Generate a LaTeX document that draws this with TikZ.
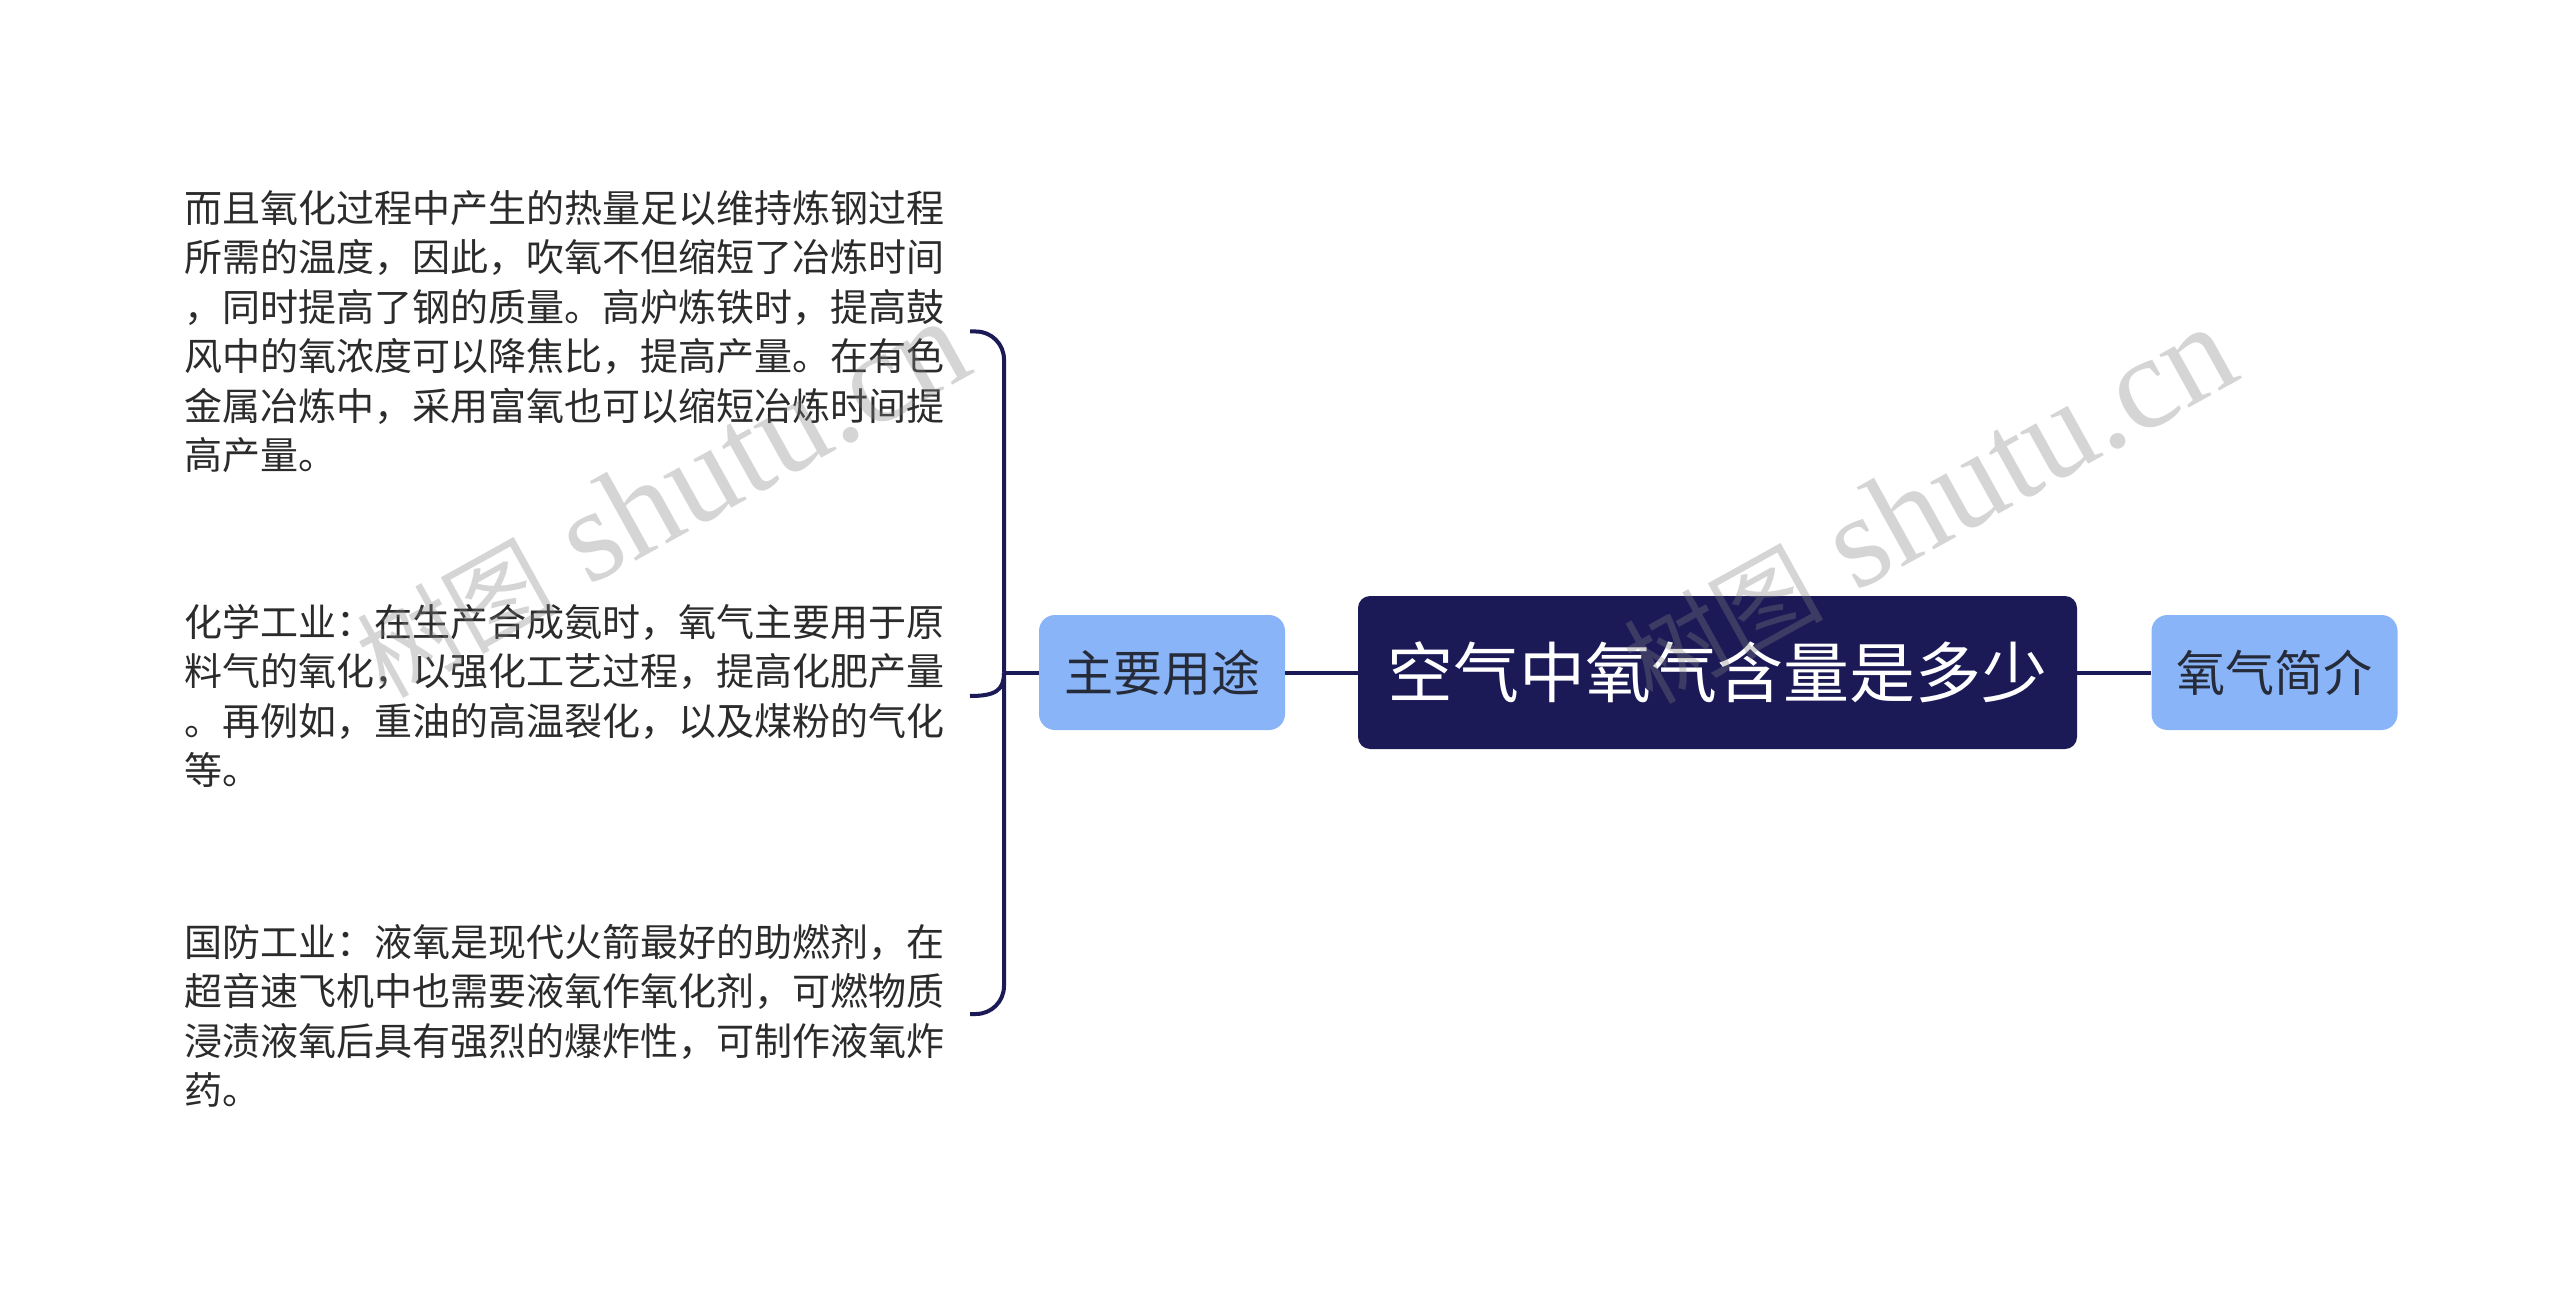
\documentclass[tikz,border=0pt]{standalone}
\usepackage{fontspec}
\setmainfont{Noto Sans CJK SC}
\newfontfamily\wmserif{Liberation Serif}
\usetikzlibrary{calc}
\definecolor{navy}{HTML}{1B1A57}
\definecolor{lblue}{HTML}{8AB4F8}
\definecolor{txt}{HTML}{2B2B2B}
\definecolor{subtxt}{HTML}{262B3A}
\begin{document}
\begin{tikzpicture}[x=1pt,y=-1pt,
  root/.style={fill=navy, rounded corners=12pt, minimum width=719pt, minimum height=153pt,
    text=white, font=\fontsize{66}{74}\selectfont, inner sep=0pt},
  branch/.style={fill=lblue, rounded corners=16pt, minimum width=246pt, minimum height=115pt,
    text=subtxt, font=\fontsize{49}{56}\selectfont, inner sep=0pt},
  leaf/.style={anchor=base west, inner sep=0pt, text=txt, font=\fontsize{38}{49.5}\selectfont},
  link/.style={draw=navy, line width=4pt},
  wm/.style={text=gray, opacity=0.33, rotate=29, inner sep=0pt, anchor=base west,
    font=\fontsize{132}{140}\selectfont}]
\useasboundingbox[fill=white] (0,0) rectangle (2560,1297);

% nodes
\node[root] (root) at (1717.5,672.5) {空气中氧气含量是多少};
\node[branch] (b1) at (1162,672.5) {主要用途};
\node[branch] (b2) at (2274.5,672.5) {氧气简介};

\node[leaf] (l1) at (184,222.5) {\parbox[t]{800pt}{\raggedright
而且氧化过程中产生的热量足以维持炼钢过程\\
所需的温度，因此，吹氧不但缩短了冶炼时间\\
，同时提高了钢的质量。高炉炼铁时，提高鼓\\
风中的氧浓度可以降焦比，提高产量。在有色\\
金属冶炼中，采用富氧也可以缩短冶炼时间提\\
高产量。}};
\node[leaf] (l2) at (184,636.4) {\parbox[t]{800pt}{\raggedright
化学工业：在生产合成氨时，氧气主要用于原\\
料气的氧化，以强化工艺过程，提高化肥产量\\
。再例如，重油的高温裂化，以及煤粉的气化\\
等。}};
\node[leaf] (l3) at (184,956.4) {\parbox[t]{800pt}{\raggedright
国防工业：液氧是现代火箭最好的助燃剂，在\\
超音速飞机中也需要液氧作氧化剂，可燃物质\\
浸渍液氧后具有强烈的爆炸性，可制作液氧炸\\
药。}};

% connectors
\coordinate (hub) at (1004,672.5);
\coordinate (e1) at (970,331.5);
\coordinate (e2) at (970,696);
\coordinate (e3) at (970,1014);
\draw[link] (root.west) -- (b1.east);
\draw[link] (root.east) -- (b2.west);
\draw[link] (b1.west) -- (hub);
\draw[link, rounded corners=28pt] (e1) -- (1004,331.5) -- (hub);
\draw[link, rounded corners=28pt] (e3) -- (1004,1014) -- (hub);
\draw[link] (e2) .. controls (996,696) and (1004,690) .. (hub);

% watermarks
\node[wm] (wm1) at (385,700) {{\fontsize{100}{105}\selectfont 树图}\wmserif\ shutu.cn};
\node[wm] (wm2) at (1652,706) {{\fontsize{100}{105}\selectfont 树图}\wmserif\ shutu.cn};
\end{tikzpicture}
\end{document}
